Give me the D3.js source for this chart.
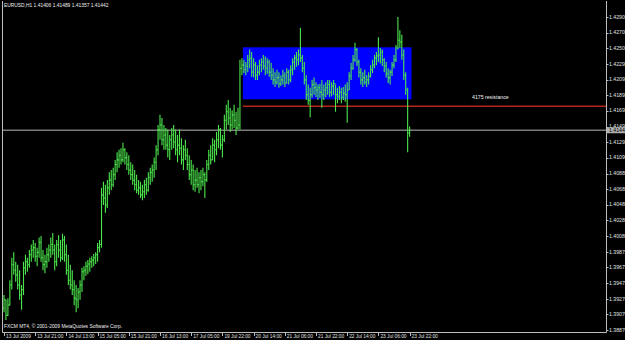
<!DOCTYPE html>
<html>
<head>
<meta charset="utf-8">
<script src="https://cdn.jsdelivr.net/npm/d3@7"></script>
<style>
  html, body { margin: 0; padding: 0; background: #000; }
  svg { display: block; }
</style>
</head>
<body>
<div id="chart"></div>
<script>
// EURUSD H1, 13 Jul 2009 - 23 Jul 2009 (one value per hourly bar)
const highs = [
  1.3932,1.3926,1.3928,1.3951,1.3980,1.3987,1.3975,1.3971,1.3964,1.3945,
  1.3975,1.3984,1.3980,1.3990,1.3997,1.4003,1.3999,1.3993,1.4006,1.4008,
  1.3990,1.3984,1.3993,1.3997,1.4006,1.4012,1.3997,1.4003,1.4009,1.4003,
  1.4011,1.4008,1.3997,1.3984,1.3971,1.3964,1.3951,1.3945,1.3941,1.3951,
  1.3967,1.3969,1.3975,1.3977,1.3980,1.3982,1.3985,1.3987,1.3999,1.4003,
  1.4070,1.4078,1.4074,1.4080,1.4090,1.4093,1.4096,1.4106,1.4116,1.4119,
  1.4121,1.4128,1.4121,1.4116,1.4112,1.4103,1.4100,1.4093,1.4087,1.4080,
  1.4078,1.4074,1.4080,1.4083,1.4090,1.4096,1.4100,1.4109,1.4125,1.4151,
  1.4164,1.4160,1.4151,1.4147,1.4145,1.4138,1.4147,1.4151,1.4145,1.4138,
  1.4145,1.4134,1.4125,1.4132,1.4121,1.4112,1.4106,1.4100,1.4093,1.4096,
  1.4090,1.4093,1.4096,1.4090,1.4106,1.4119,1.4125,1.4134,1.4132,1.4142,
  1.4151,1.4147,1.4138,1.4164,1.4177,1.4183,1.4173,1.4170,1.4177,1.4168,
  1.4173,1.4235,1.4237,1.4235,1.4232,1.4241,1.4248,1.4245,1.4237,1.4232,
  1.4228,1.4235,1.4237,1.4241,1.4239,1.4237,1.4235,1.4231,1.4224,1.4219,
  1.4222,1.4219,1.4215,1.4222,1.4219,1.4224,1.4222,1.4228,1.4237,1.4241,
  1.4245,1.4248,1.4276,1.4241,1.4232,1.4215,1.4203,1.4199,1.4209,1.4212,
  1.4206,1.4203,1.4204,1.4209,1.4203,1.4206,1.4209,1.4209,1.4206,1.4209,
  1.4203,1.4199,1.4201,1.4199,1.4200,1.4203,1.4206,1.4219,1.4231,1.4241,
  1.4257,1.4250,1.4235,1.4224,1.4219,1.4222,1.4215,1.4219,1.4228,1.4235,
  1.4241,1.4245,1.4264,1.4250,1.4248,1.4237,1.4232,1.4224,1.4222,1.4232,
  1.4241,1.4254,1.4290,1.4273,1.4267,1.4248,1.4219,1.4199,1.41489
];
const lows = [
  1.3910,1.3900,1.3905,1.3919,1.3939,1.3958,1.3949,1.3939,1.3926,1.3913,
  1.3932,1.3958,1.3962,1.3967,1.3975,1.3980,1.3975,1.3969,1.3980,1.3975,
  1.3964,1.3960,1.3967,1.3975,1.3980,1.3984,1.3964,1.3969,1.3980,1.3975,
  1.3977,1.3975,1.3958,1.3945,1.3939,1.3932,1.3919,1.3910,1.3915,1.3926,
  1.3936,1.3951,1.3957,1.3959,1.3962,1.3967,1.3969,1.3972,1.3975,1.3987,
  1.3993,1.4048,1.4038,1.4044,1.4061,1.4067,1.4071,1.4080,1.4090,1.4096,
  1.4100,1.4103,1.4100,1.4093,1.4087,1.4080,1.4074,1.4067,1.4063,1.4061,
  1.4057,1.4054,1.4057,1.4061,1.4065,1.4074,1.4078,1.4083,1.4093,1.4112,
  1.4132,1.4125,1.4119,1.4119,1.4109,1.4106,1.4119,1.4121,1.4112,1.4103,
  1.4112,1.4100,1.4093,1.4106,1.4093,1.4080,1.4074,1.4067,1.4065,1.4070,
  1.4063,1.4067,1.4072,1.4057,1.4078,1.4093,1.4100,1.4106,1.4103,1.4112,
  1.4121,1.4119,1.4109,1.4129,1.4145,1.4151,1.4142,1.4145,1.4147,1.4138,
  1.4145,1.4145,1.4215,1.4218,1.4215,1.4219,1.4224,1.4213,1.4212,1.4209,
  1.4209,1.4215,1.4219,1.4222,1.4215,1.4217,1.4213,1.4209,1.4203,1.4200,
  1.4203,1.4199,1.4201,1.4203,1.4200,1.4204,1.4203,1.4206,1.4215,1.4222,
  1.4226,1.4228,1.4232,1.4219,1.4203,1.4183,1.4177,1.4161,1.4186,1.4190,
  1.4187,1.4183,1.4186,1.4173,1.4183,1.4187,1.4190,1.4187,1.4188,1.4190,
  1.4168,1.4179,1.4183,1.4179,1.4183,1.4181,1.4154,1.4196,1.4209,1.4222,
  1.4232,1.4227,1.4212,1.4203,1.4200,1.4203,1.4200,1.4203,1.4212,1.4218,
  1.4224,1.4228,1.4232,1.4230,1.4227,1.4219,1.4212,1.4205,1.4203,1.4214,
  1.4224,1.4232,1.4248,1.4250,1.4235,1.4209,1.4190,1.4116,1.41357
];
const closes = [
  1.3926,1.3906,1.3919,1.3945,1.3971,1.3964,1.3958,1.3945,1.3932,1.3939,
  1.3967,1.3975,1.3971,1.3984,1.3990,1.3993,1.3982,1.3987,1.4000,1.3980,
  1.3971,1.3975,1.3984,1.3990,1.3997,1.3990,1.3975,1.3997,1.3990,1.3980,
  1.4003,1.3984,1.3964,1.3951,1.3945,1.3939,1.3928,1.3926,1.3936,1.3945,
  1.3962,1.3964,1.3969,1.3972,1.3975,1.3977,1.3980,1.3984,1.3993,1.3997,
  1.4061,1.4057,1.4048,1.4070,1.4080,1.4074,1.4087,1.4100,1.4106,1.4112,
  1.4106,1.4119,1.4109,1.4100,1.4093,1.4087,1.4080,1.4074,1.4067,1.4070,
  1.4061,1.4065,1.4074,1.4067,1.4083,1.4090,1.4093,1.4103,1.4119,1.4145,
  1.4151,1.4132,1.4138,1.4125,1.4119,1.4132,1.4138,1.4129,1.4119,1.4125,
  1.4121,1.4106,1.4119,1.4112,1.4100,1.4087,1.4093,1.4074,1.4080,1.4074,
  1.4083,1.4078,1.4087,1.4080,1.4100,1.4112,1.4106,1.4125,1.4119,1.4132,
  1.4145,1.4125,1.4132,1.4157,1.4168,1.4160,1.4151,1.4164,1.4157,1.4147,
  1.4151,1.4224,1.4228,1.4222,1.4227,1.4235,1.4237,1.4219,1.4228,1.4215,
  1.4219,1.4228,1.4232,1.4227,1.4224,1.4232,1.4219,1.4215,1.4209,1.4206,
  1.4212,1.4204,1.4209,1.4214,1.4205,1.4219,1.4209,1.4222,1.4232,1.4237,
  1.4235,1.4241,1.4237,1.4224,1.4209,1.4190,1.4183,1.4190,1.4203,1.4199,
  1.4196,1.4199,1.4193,1.4190,1.4196,1.4199,1.4203,1.4193,1.4201,1.4204,
  1.4190,1.4188,1.4193,1.4186,1.4192,1.4190,1.4196,1.4214,1.4224,1.4235,
  1.4248,1.4232,1.4219,1.4209,1.4212,1.4206,1.4209,1.4214,1.4222,1.4228,
  1.4237,1.4240,1.4241,1.4245,1.4235,1.4227,1.4217,1.4212,1.4219,1.4228,
  1.4235,1.4250,1.4260,1.4258,1.4241,1.4215,1.4196,1.41406,1.41442
];
const firstOpen = 1.3915;

const priceTicks = [1.42900,1.42700,1.42500,1.42295,1.42095,1.41895,1.41695,1.41490,1.41290,1.41090,
  1.40885,1.40685,1.40485,1.40280,1.40080,1.39875,1.39675,1.39475,1.39270,1.39070,1.38870];
const timeLabels = ["13 Jul 2009","13 Jul 21:00","14 Jul 13:00","15 Jul 05:00","15 Jul 21:00",
  "16 Jul 13:00","17 Jul 05:00","19 Jul 22:00","20 Jul 14:00","21 Jul 06:00","21 Jul 22:00",
  "22 Jul 14:00","23 Jul 06:00","23 Jul 22:00"];
const barsPerLabel = 16;

const zoneTop = 1.4251, zoneBottom = 1.4184, zoneStart = 122.5, zoneEnd = 209;
const resistance = 1.4175;
const resistanceLabel = "4175 resistance";
const bid = 1.41442;
const title = "EURUSD,H1  1.41406 1.41489 1.41357 1.41442";
const copyright = "FXCM MT4, \u00a9 2001-2009 MetaQuotes Software Corp.";

const W = 625, H = 340;
const plotRight = 606, plotBottom = 332;
const font = "'Liberation Sans', Arial, sans-serif";

const bars = closes.map((c, i) => ({
  i, open: i === 0 ? firstOpen : closes[i - 1], high: highs[i], low: lows[i], close: c
}));

const svg = d3.select("#chart").append("svg")
  .attr("width", W).attr("height", H)
  .style("background", "#000");

const x = d3.scaleLinear().domain([0, closes.length - 1]).range([4, 409.6]);
const y = d3.scaleLinear().domain([1.3887, 1.4290]).range([330, 17]);
const px = v => Math.round(v) + 0.5;

// support/resistance box
svg.append("rect")
  .attr("x", x(zoneStart)).attr("y", y(zoneTop))
  .attr("width", x(zoneEnd) - x(zoneStart))
  .attr("height", y(zoneBottom) - y(zoneTop))
  .attr("fill", "#0000ff");

// bid line
svg.append("line")
  .attr("x1", 2).attr("x2", plotRight)
  .attr("y1", y(bid)).attr("y2", y(bid))
  .attr("stroke", "#7a7a7a").attr("stroke-width", 1.5);

// resistance line
svg.append("line")
  .attr("x1", x(zoneStart)).attr("x2", plotRight)
  .attr("y1", y(resistance)).attr("y2", y(resistance))
  .attr("stroke", "#b3261e").attr("stroke-width", 1.6);

svg.append("text")
  .attr("x", 472).attr("y", y(resistance) - 7)
  .attr("fill", "#f0f0f0").style("font", `5.2px ${font}`)
  .text(resistanceLabel);

// OHLC bars
svg.append("g").selectAll("path")
  .data(bars)
  .enter()
  .append("path")
  .attr("d", d => {
    const cx = x(d.i);
    return `M${cx},${y(d.high)}V${y(d.low)}M${cx - 1},${y(d.open)}H${cx}M${cx},${y(d.close)}H${cx + 1}`;
  })
  .attr("fill", "none")
  .attr("stroke", "#4ce64c")
  .attr("stroke-width", 1.1);

// frame
svg.append("path")
  .attr("d", `M2.5,1V${plotBottom + 0.5}H${plotRight + 0.5}V1`)
  .attr("fill", "none").attr("stroke", "#bdbdbd").attr("stroke-width", 1);

// price axis
const pAxis = svg.append("g");
pAxis.selectAll("line").data(priceTicks).enter().append("line")
  .attr("x1", plotRight).attr("x2", plotRight + 2.5)
  .attr("y1", d => px(y(d))).attr("y2", d => px(y(d)))
  .attr("stroke", "#bdbdbd");
pAxis.selectAll("text").data(priceTicks).enter().append("text")
  .attr("x", plotRight + 3).attr("y", d => y(d) + 1.8)
  .attr("fill", "#e0e0e0").style("font", `5.2px ${font}`)
  .text(d => d.toFixed(5));

// bid price label
svg.append("rect")
  .attr("x", plotRight + 1).attr("y", y(bid) - 3)
  .attr("width", W - plotRight).attr("height", 6)
  .attr("fill", "#b0b0b0");
svg.append("text")
  .attr("x", plotRight + 3).attr("y", y(bid) + 1.8)
  .attr("fill", "#000").style("font", `5.2px ${font}`)
  .text(bid.toFixed(5));

// time axis
const tAxis = svg.append("g");
tAxis.selectAll("line").data(timeLabels).enter().append("line")
  .attr("x1", (d, k) => px(x(k * barsPerLabel))).attr("x2", (d, k) => px(x(k * barsPerLabel)))
  .attr("y1", plotBottom).attr("y2", plotBottom + 4)
  .attr("stroke", "#bdbdbd");
tAxis.selectAll("text").data(timeLabels).enter().append("text")
  .attr("x", (d, k) => x(k * barsPerLabel) + 2).attr("y", 338)
  .attr("fill", "#e0e0e0").style("font", `4.8px ${font}`)
  .text(d => d);

// header and footer text
svg.append("text").attr("x", 4).attr("y", 7)
  .attr("fill", "#f0f0f0").style("font", `4.9px ${font}`)
  .text(title);
svg.append("text").attr("x", 4).attr("y", 328)
  .attr("fill", "#f0f0f0").style("font", `4.9px ${font}`)
  .text(copyright);
</script>
</body>
</html>
